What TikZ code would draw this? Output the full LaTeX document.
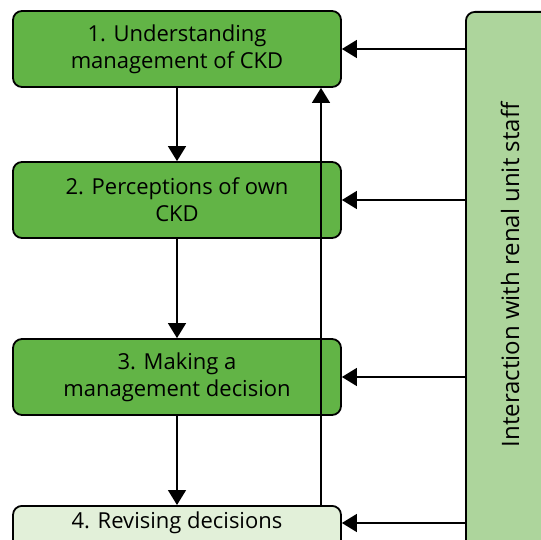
\documentclass[tikz,border=0pt]{standalone}
\usepackage{fontspec}
\setmainfont{Open Sans}
\usetikzlibrary{arrows.meta}
\definecolor{koyuyesil}{HTML}{62B446}
\definecolor{acikyesil}{HTML}{ADD59C}
\definecolor{soluk}{HTML}{E2F0D9}
\begin{document}
\begin{tikzpicture}[x=1pt, y=-1pt, font=\fontsize{22}{27}\selectfont,
  adim/.style={draw, line width=1.8pt, rounded corners=9pt, align=center,
    minimum width=328pt, minimum height=76pt, inner sep=0pt},
  ok/.style={-{Triangle[length=15pt, width=18pt]}, line width=1.5pt}]
  \useasboundingbox (0,0) rectangle (541,540);
  \clip (0,0) rectangle (541,540);

  % --- karar adimlari ---
  \node[adim, fill=koyuyesil] (box1) at (177,49) {1. Understanding\\management of CKD};
  \node[adim, fill=koyuyesil] (box2) at (177,200) {2. Perceptions of own\\CKD};
  \node[adim, fill=koyuyesil] (box3) at (177,377) {3. Making a\\management decision};
  \node[adim, fill=soluk, minimum height=44pt, anchor=north] (box4) at (177,505) {};
  \node (box4text) at (177,523) {4. Revising decisions};

  % renal birim personeli
  \node[draw, line width=1.8pt, rounded corners=9pt, fill=acikyesil, anchor=north west,
    minimum width=90pt, minimum height=545pt] (bar) at (465,11) {};
  \node[rotate=90, font=\fontsize{24}{28}\selectfont] (bartext) at (510,275)
    {Interaction with renal unit staff};

  % asagi oklar
  \draw[ok] (box1) -- (box2);
  \draw[ok] (box2) -- (box3);
  \draw[ok] (box3) -- (box4);
  % geri donus
  \coordinate (geri) at (321,0);
  \draw[ok] (box4.north -| geri) -- (box1.south -| geri);

  % personelden gelen oklar
  \foreach \b in {box1, box2, box3, box4text}
    \draw[ok] (\b -| bar.west) -- (\b -| box1.east);
\end{tikzpicture}
\end{document}
